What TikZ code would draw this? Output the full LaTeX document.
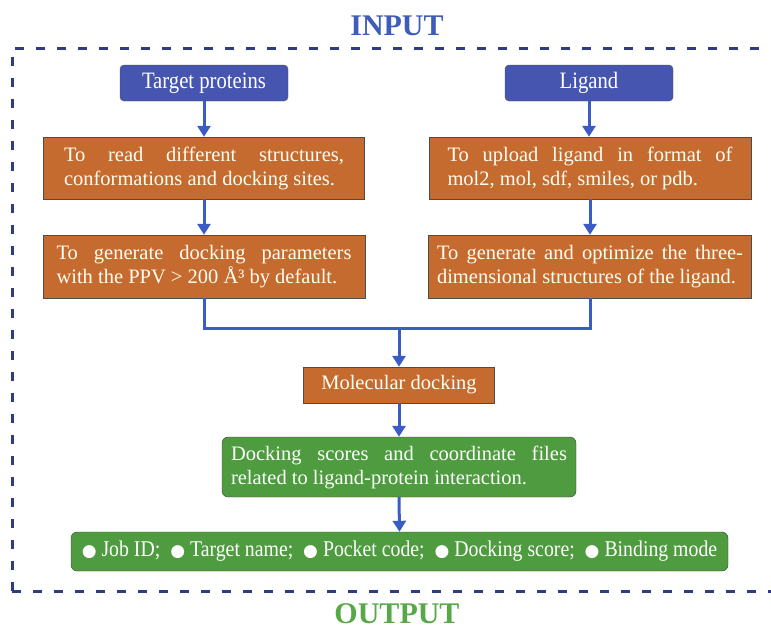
\documentclass[tikz,border=0pt]{standalone}
\usepackage{fontspec}
\setmainfont{Liberation Serif}
\newfontfamily\narrowfont[FakeStretch=0.88]{Liberation Serif}
\newfontfamily\symfont{DejaVu Sans}
\usetikzlibrary{arrows.meta, positioning}

\definecolor{titleblue}{HTML}{3F5DB8}
\definecolor{titlegreen}{HTML}{58A848}
\definecolor{framenavy}{HTML}{2E3C82}
\definecolor{boxblue}{HTML}{4656B0}
\definecolor{boxorange}{HTML}{C66B30}
\definecolor{boxgreen}{HTML}{4F9B3F}
\definecolor{arrowblue}{HTML}{3A5CC4}

\newcommand{\dotmark}{{\symfont\fontsize{17}{17}\selectfont ●}\ }

\begin{document}
\begin{tikzpicture}[x=1pt, y=-1pt,
  flow/.style={draw=arrowblue, line width=3pt, -{Triangle[width=13pt,length=11pt]}},
  link/.style={draw=arrowblue, line width=3pt},
  frame/.style={draw=framenavy, line width=3pt, dash pattern=on 9pt off 12pt},
  title/.style={font=\bfseries\fontsize{30}{30}\selectfont},
  inbox/.style={draw=black!70, fill=boxblue, rounded corners=4pt, text=white,
    minimum width=168pt, minimum height=36pt, inner sep=0pt,
    font=\narrowfont\fontsize{23.5}{24}\selectfont},
  stepbox/.style={draw=black!70, fill=boxorange, text=white!95!yellow,
    minimum height=62pt, inner sep=0pt, align=justify,
    font=\fontsize{20.5}{24}\selectfont},
  resbox/.style={draw=black!75, fill=boxgreen, rounded corners=6pt, text=white,
    inner sep=0pt, font=\fontsize{20.5}{24}\selectfont}]
  \useasboundingbox (0,0) rectangle (771,630);

  % dashed frame
  \draw[frame] (12,591) -- (12,48) -- (771,48);
  \draw[frame] (12,591) -- (771,591);
  \node[title, text=titleblue] (input) at (397,26) {INPUT};
  \node[title, text=titlegreen] (output) at (397,614) {OUTPUT};

  % inputs
  \node[inbox] (protein) at (204,83) {Target proteins};
  \node[inbox] (ligand) at (589,83) {Ligand};

  % protein side
  \node[stepbox, minimum width=321pt, text width=280pt] (read) at (204,168)
    {To read different structures,\linebreak conformations and docking sites.};
  \node[stepbox, minimum width=322pt, text width=295pt, minimum height=63pt] (param) at (204,266.5)
    {To generate docking parameters\linebreak with the PPV > 200 Å³ by default.};

  % ligand side
  \node[stepbox, minimum width=322pt, text width=285pt] (upload) at (590,168)
    {To upload ligand in format of\linebreak mol2, mol, sdf, smiles, or pdb.};
  \node[stepbox, minimum width=323pt, text width=306pt, minimum height=63pt] (optim) at (590,266.5)
    {To generate and optimize the three-\linebreak dimensional structures of the ligand.};

  % docking and results
  \node[stepbox, minimum width=191pt, minimum height=36pt, align=center] (dock) at (399,385)
    {Molecular docking};
  \node[resbox, minimum width=354pt, minimum height=60pt, text width=336pt, align=justify] (scores) at (399,467)
    {Docking scores and coordinate files\linebreak related to ligand-protein interaction.};
  \node[resbox, minimum width=657pt, minimum height=39pt, font=\narrowfont\fontsize{22.5}{24}\selectfont] (fields) at (399.5,551.5)
    {\dotmark Job ID;\ \ \dotmark Target name;\ \ \dotmark Pocket code;\ \ \dotmark Docking score;\ \ \dotmark Binding mode};

  \coordinate (join) at (399,328);

  \draw[flow] (protein.south) -- (protein.south |- read.north);
  \draw[flow] (read.south) -- (param.north);
  \draw[flow] (ligand.south) -- (ligand.south |- upload.north);
  \draw[flow] (upload.south) -- (optim.north);
  \draw[link] (param.south) |- (join) -| (optim.south);
  \draw[flow] (join) -- (dock.north);
  \draw[flow] (dock.south) -- (scores.north);
  \draw[flow] (scores.south) -- (fields.north);
\end{tikzpicture}
\end{document}
